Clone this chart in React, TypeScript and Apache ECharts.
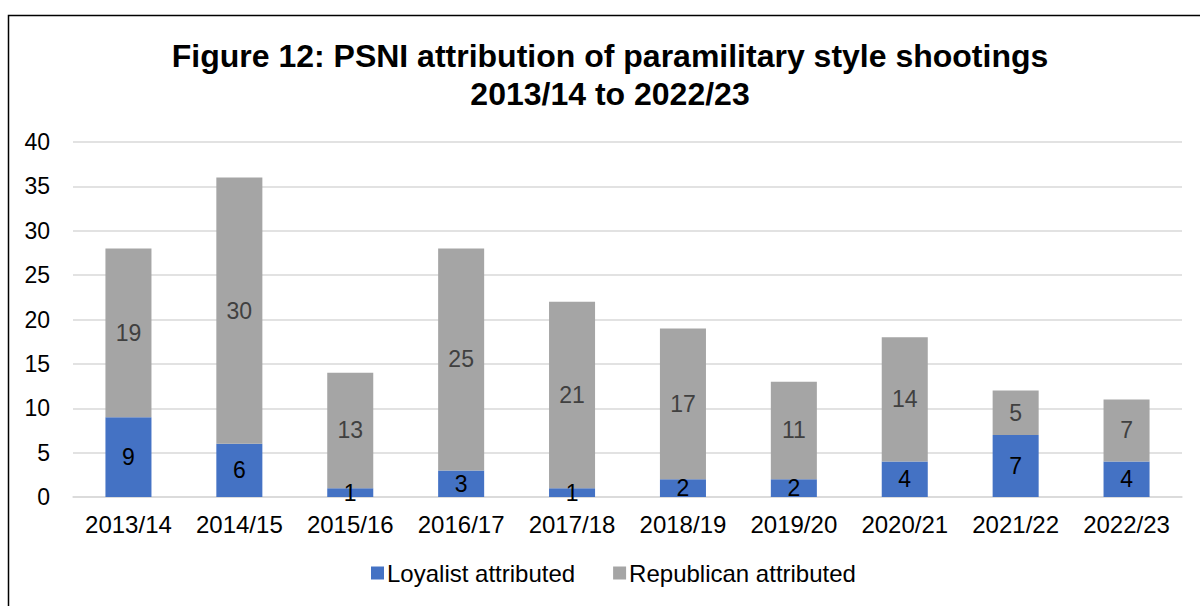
import React, { useEffect, useRef } from "react";
import * as echarts from "echarts";

const categories = ["2013/14", "2014/15", "2015/16", "2016/17", "2017/18", "2018/19", "2019/20", "2020/21", "2021/22", "2022/23"];
const loyalist = [9, 6, 1, 3, 1, 2, 2, 4, 7, 4];
const republican = [19, 30, 13, 25, 21, 17, 11, 14, 5, 7];
const seriesNames = ["Loyalist attributed", "Republican attributed"];
const titleLines = ["Figure 12: PSNI attribution of paramilitary style shootings", "2013/14 to 2022/23"];

const FONT = "'Liberation Sans', Arial, sans-serif";

export default function App() {
  const ref = useRef<HTMLDivElement>(null);
  useEffect(() => {
    if (!ref.current) return;
    const chart = echarts.init(ref.current, null, { renderer: "svg" });
    chart.setOption({
      animation: false,
      backgroundColor: "#ffffff",
      textStyle: { fontFamily: FONT },
      title: {
        text: titleLines.join("\n"),
        left: 605,
        textAlign: "center",
        top: 32,
        textStyle: { fontFamily: FONT, fontSize: 32, fontWeight: "bold", color: "#000", lineHeight: 38 },
      },
      graphic: [
        {
          type: "rect",
          shape: { x: 8.5, y: 15.5, width: 1300, height: 700 },
          style: { fill: "none", stroke: "#000", lineWidth: 1.5 },
          silent: true,
        },
      ],
      legend: {
        bottom: 16,
        left: 366,
        itemWidth: 13,
        itemHeight: 13,
        itemGap: 38,
        icon: "rect",
        textStyle: { fontFamily: FONT, fontSize: 24, color: "#000", padding: [0, 0, 0, -2] },
        data: seriesNames,
      },
      grid: { left: 73, right: 18, top: 142, bottom: 109, containLabel: false },
      xAxis: {
        type: "category",
        data: categories,
        axisLine: { show: true, lineStyle: { color: "#d9d9d9", width: 1.5 } },
        axisTick: { show: false },
        axisLabel: { fontFamily: FONT, fontSize: 24, color: "#000", margin: 15, interval: 0 },
      },
      yAxis: {
        type: "value",
        min: 0,
        max: 40,
        interval: 5,
        axisLine: { show: false },
        axisTick: { show: false },
        splitLine: { lineStyle: { color: "#d9d9d9", width: 1.5 } },
        axisLabel: { fontFamily: FONT, fontSize: 23, color: "#000", margin: 23 },
      },
      series: [
        {
          name: seriesNames[0],
          type: "bar",
          stack: "total",
          data: loyalist,
          barWidth: "41.5%",
          itemStyle: { color: "#4472C4" },
          label: { show: true, position: "inside", fontFamily: FONT, fontSize: 23, color: "#000" },
        },
        {
          name: seriesNames[1],
          type: "bar",
          stack: "total",
          data: republican,
          barWidth: "41.5%",
          itemStyle: { color: "#A5A5A5" },
          label: { show: true, position: "inside", fontFamily: FONT, fontSize: 23, color: "#404040" },
        },
      ],
    });
    return () => chart.dispose();
  }, []);
  return (
    <div
      ref={ref}
      style={{ position: "absolute", left: 0, top: 0, width: 1200, height: 606 }}
    />
  );
}
